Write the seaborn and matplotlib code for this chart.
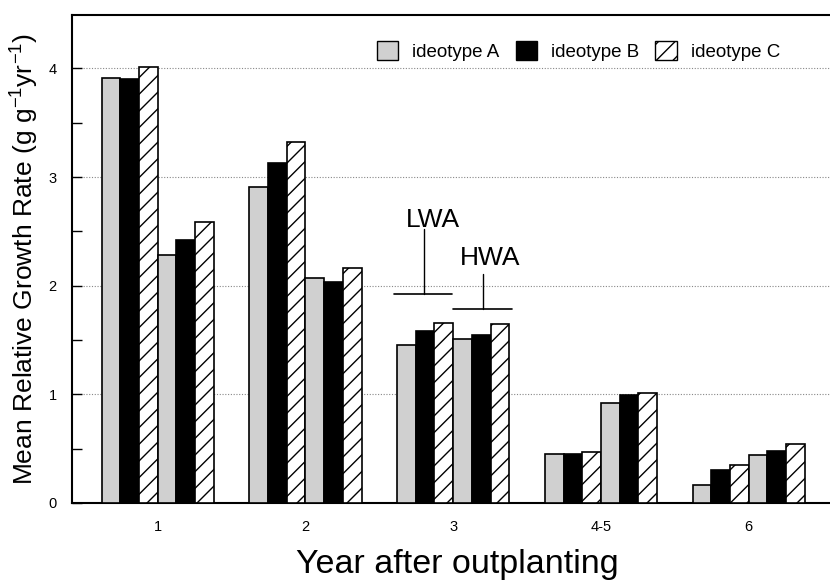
import matplotlib
matplotlib.use("Agg")
import matplotlib.pyplot as plt
from matplotlib.patches import Patch
import seaborn as sns
import pandas as pd

years = ["1", "2", "3", "4-5", "6"]
lwa_A = [3.91, 2.91, 1.45, 0.45, 0.17]
lwa_B = [3.90, 3.13, 1.58, 0.45, 0.30]
lwa_C = [4.01, 3.32, 1.66, 0.47, 0.35]
hwa_A = [2.28, 2.07, 1.51, 0.92, 0.44]
hwa_B = [2.42, 2.03, 1.55, 0.99, 0.48]
hwa_C = [2.59, 2.16, 1.65, 1.01, 0.54]
ideotypes = ["ideotype A", "ideotype B", "ideotype C"]

series = {
    "LWA A": lwa_A, "LWA B": lwa_B, "LWA C": lwa_C,
    "HWA A": hwa_A, "HWA B": hwa_B, "HWA C": hwa_C,
}
rows = []
for key, vals in series.items():
    for y, v in zip(years, vals):
        rows.append({"year": y, "group": key, "rgr": v})
df = pd.DataFrame(rows)
hue_order = list(series.keys())

sns.set_style("white")
plt.rcParams['font.family'] = ['Liberation Sans', 'DejaVu Sans']
plt.rcParams['hatch.linewidth'] = 1.0
plt.rcParams['text.color'] = 'black'
plt.rcParams['axes.labelcolor'] = 'black'
plt.rcParams['xtick.color'] = 'black'
plt.rcParams['ytick.color'] = 'black'

fig = plt.figure(figsize=(8.3, 5.84), dpi=100)
ax = fig.add_axes([0.0867, 0.1387, 0.9133, 0.8353])

palette = {k: c for k, c in zip(hue_order, ["#d0d0d0", "black", "white"] * 2)}
sns.barplot(data=df, x="year", y="rgr", hue="group", order=years,
            hue_order=hue_order, palette=palette, width=0.76, gap=0,
            dodge=True, saturation=1, edgecolor="black", linewidth=1.2,
            legend=False, ax=ax, zorder=3)

for i, cont in enumerate(ax.containers):
    for bar in cont:
        if i % 3 == 2:
            bar.set_hatch("//")
        bar.set_edgecolor("black")

ax.set_ylim(0, 4.49)
ax.set_xlim(-0.58, 4.55)
ax.set_yticks([0, 1, 2, 3, 4])
ax.set_yticks([0.5, 1.5, 2.5, 3.5], minor=True)
ax.yaxis.grid(True, which="major", linestyle=(0, (1, 1.5)), color="#888888",
              linewidth=0.8, zorder=0)
ax.set_axisbelow(True)
ax.tick_params(axis="y", which="both", direction="in", length=7, width=1,
               labelsize=10.5, pad=11, left=True)
ax.tick_params(axis="x", length=0, labelsize=10.5, pad=12)

for s in ["left", "bottom", "top"]:
    ax.spines[s].set_linewidth(1.5)
    ax.spines[s].set_color("black")
ax.spines["right"].set_visible(False)

ax.set_xlabel("Year after outplanting", fontsize=24.5, labelpad=11)
ax.xaxis.set_label_coords(0.508, -0.095)
ax.set_ylabel("Mean Relative Growth Rate (g g$^{\\mathregular{-1}}$yr$^{\\mathregular{-1}}$)",
              fontsize=19, labelpad=6)

# LWA / HWA annotations
ax.plot([1.60, 1.99], [1.92, 1.92], color="black", lw=1.2, zorder=4)
ax.plot([1.80, 1.80], [1.92, 2.52], color="black", lw=1.0, zorder=4)
ax.text(1.86, 2.542, "LWA", ha="center", va="baseline", fontsize=19, zorder=4)
ax.plot([2.00, 2.40], [1.79, 1.79], color="black", lw=1.2, zorder=4)
ax.plot([2.20, 2.20], [1.79, 2.11], color="black", lw=1.0, zorder=4)
ax.text(2.25, 2.19, "HWA", ha="center", va="baseline", fontsize=19, zorder=4)

handles = [
    Patch(facecolor="#d0d0d0", edgecolor="black", linewidth=1, label=ideotypes[0]),
    Patch(facecolor="black", edgecolor="black", linewidth=1, label=ideotypes[1]),
    Patch(facecolor="white", edgecolor="black", hatch="//", linewidth=1, label=ideotypes[2]),
]
ax.legend(handles=handles, ncol=3, frameon=False, fontsize=13.5,
          loc="center left", bbox_to_anchor=(0.454, 0.9127),
          bbox_transform=fig.transFigure, handlelength=1.15, handleheight=1.2,
          columnspacing=0.85, handletextpad=0.75, borderpad=0, borderaxespad=0)

fig.savefig("out.png", dpi=100)
